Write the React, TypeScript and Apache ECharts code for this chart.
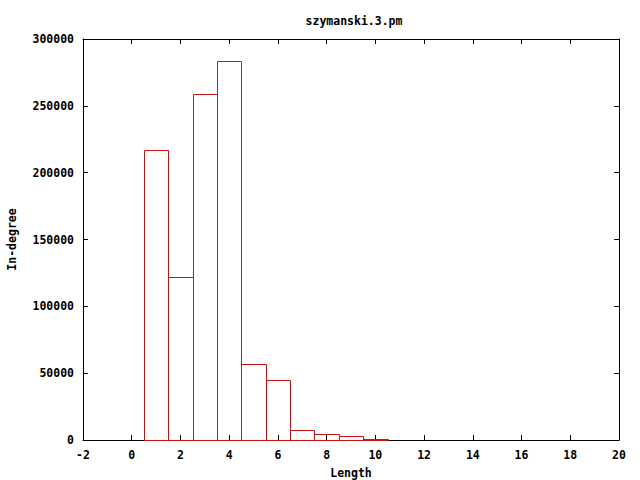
import React, { useEffect, useRef } from "react";
import * as echarts from "echarts";

const lengths = [1, 2, 3, 4, 5, 6, 7, 8, 9, 10];
const inDegree = [216700, 122200, 258800, 283800, 56600, 44700, 7300, 4300, 2800, 1000];
const chartTitle = "szymanski.3.pm";
const xName = "Length";
const yName = "In-degree";

const FONT = "'DejaVu Sans Mono', 'Liberation Mono', monospace";

export default function App() {
  const ref = useRef<HTMLDivElement>(null);
  useEffect(() => {
    if (!ref.current) return;
    const chart = echarts.init(ref.current, null, { renderer: "svg" });
    const labelStyle = { fontFamily: FONT, fontWeight: "bold" as const, fontSize: 11.5, color: "#000" };
    const axisCommon = {
      axisLine: { show: true, onZero: false, lineStyle: { color: "#000", width: 1 } },
      axisTick: { show: true, inside: true, length: 5, lineStyle: { color: "#000" } },
      splitLine: { show: false },
    };
    const plain = (v: number) => String(v);
    chart.setOption({
      animation: false,
      backgroundColor: "#fff",
      title: {
        text: chartTitle,
        left: 349,
        top: 10,
        textAlign: "center",
        textStyle: { fontFamily: FONT, fontWeight: "bold", fontSize: 11.5, color: "#000" },
      },
      grid: { left: 83, right: 21, top: 39, bottom: 40, containLabel: false, outerBoundsMode: "none" },
      xAxis: [
        {
          type: "value",
          min: -2,
          max: 20,
          interval: 2,
          position: "bottom",
          name: xName,
          nameLocation: "middle",
          nameGap: 27,
          nameTextStyle: labelStyle,
          axisLabel: { ...labelStyle, margin: 9, formatter: plain },
          ...axisCommon,
        },
        {
          type: "value",
          min: -2,
          max: 20,
          interval: 2,
          position: "top",
          axisLabel: { show: false },
          ...axisCommon,
        },
      ],
      yAxis: [
        {
          type: "value",
          min: 0,
          max: 300000,
          interval: 50000,
          position: "left",
          name: yName,
          nameLocation: "middle",
          nameGap: 65,
          nameRotate: 90,
          nameTextStyle: labelStyle,
          axisLabel: { ...labelStyle, margin: 9, formatter: plain },
          ...axisCommon,
        },
        {
          type: "value",
          min: 0,
          max: 300000,
          interval: 50000,
          position: "right",
          axisLabel: { show: false },
          ...axisCommon,
        },
      ],
      series: [
        {
          type: "custom",
          xAxisIndex: 0,
          yAxisIndex: 0,
          data: lengths.map((l, i) => [l, inDegree[i]]),
          renderItem: (params: any, api: any) => {
            const x = api.value(0);
            const y = api.value(1);
            const p0 = api.coord([x - 0.5, 0]);
            const p1 = api.coord([x + 0.5, y]);
            return {
              type: "rect",
              shape: {
                x: Math.round(p0[0]) + 0.5,
                y: Math.round(p1[1]) + 0.5,
                width: Math.round(p1[0]) - Math.round(p0[0]),
                height: Math.round(p0[1]) - Math.round(p1[1]),
              },
              style: { fill: "none", stroke: "#cc1414", lineWidth: 1 },
            };
          },
        },
      ],
    });
    return () => chart.dispose();
  }, []);
  return (
    <div
      ref={ref}
      style={{ position: "absolute", left: 0, top: 0, width: 640, height: 480, background: "#fff" }}
    />
  );
}
